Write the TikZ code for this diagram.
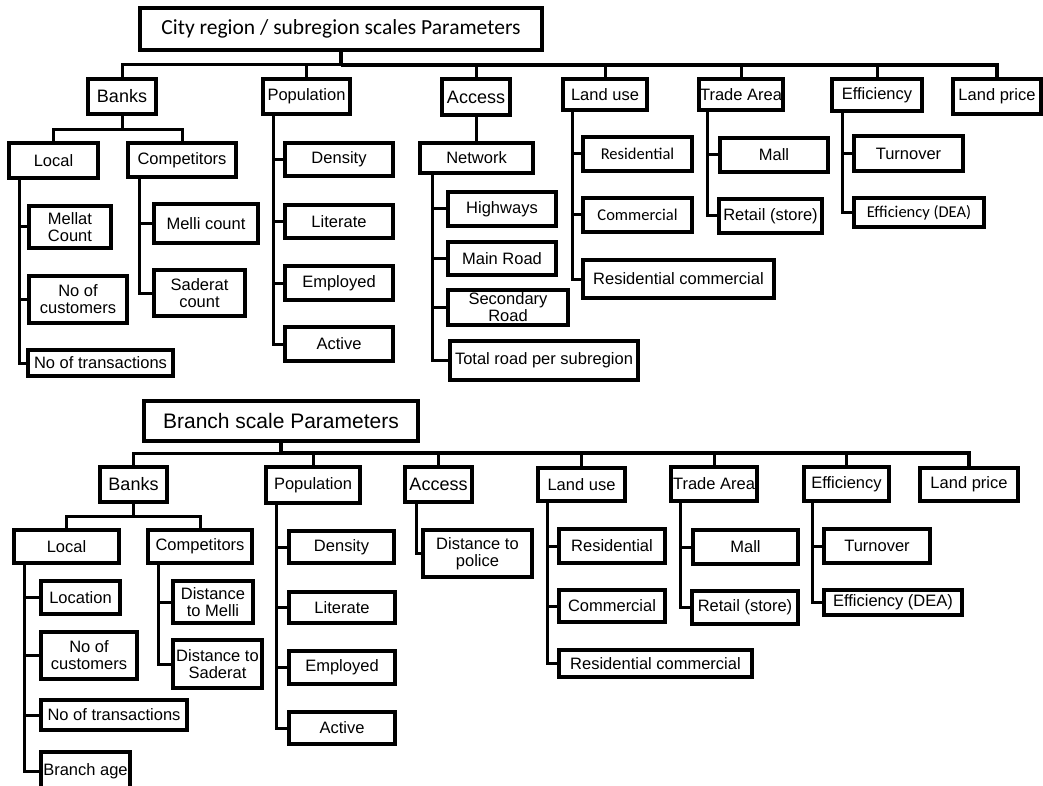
\documentclass[tikz,border=0pt]{standalone}
\usepackage{fontspec}
\setmainfont{Liberation Sans}
\newfontfamily\carl{Carlito}
\tikzset{
 box/.style={draw, line width=3.1pt, inner sep=0pt, outer sep=0pt, align=center, font=\fontsize{16.5}{17}\selectfont},
 big/.style={font=\fontsize{18}{20}\selectfont},
 ttl/.style={font=\fontsize{21}{24}\selectfont},
 ttlc/.style={font=\carl\fontsize{21.5}{24}\selectfont},
 cal/.style={font=\carl\fontsize{16.5}{18}\selectfont},
 con/.style={line width=3pt},
 bus/.style={line width=4pt},
}
\newcommand\mybox[7]{\node[box,#6,minimum width={(#4-#2)*1pt},minimum height={(#5-#3)*1pt}] (#1) at ({(#2+#4)/2},{(#3+#5)/2}) {#7};}
\begin{document}
\begin{tikzpicture}[x=1pt,y=-1pt]
\useasboundingbox (0,0) rectangle (1043,786);
% ---------------- top tree ----------------
\mybox{title1}{140}{8}{542}{50}{ttlc}{City region / subregion scales Parameters}
\mybox{banks1}{88}{79}{156}{114}{big}{Banks}
\mybox{pop1}{263}{79}{350}{114}{}{Population}
\mybox{access1}{442}{79}{510}{115}{big}{Access}
\mybox{landuse1}{563}{79}{647}{110}{}{Land use}
\mybox{trade1}{699}{79}{783}{110}{}{Trade Area}
\mybox{eff1}{832}{79}{922}{111}{}{Efficiency}
\mybox{landprice1}{953}{79}{1041}{114}{}{Land price}
\mybox{local1}{9}{143}{98}{178}{}{Local}
\mybox{comp1}{128}{143}{236}{177}{}{Competitors}
\mybox{mellat1}{29}{206}{111}{248}{}{Mellat\\Count}
\mybox{cust1}{29}{276}{127}{323}{}{No of\\customers}
\mybox{trans1}{28}{350}{173}{376}{}{No of transactions}
\mybox{melli1}{154}{204}{258}{243}{}{Melli count}
\mybox{saderat1}{154}{270}{245}{316}{}{Saderat\\count}
\mybox{density1}{285}{143}{393}{176}{}{Density}
\mybox{literate1}{285}{205}{393}{238}{}{Literate}
\mybox{employed1}{285}{266}{393}{300}{}{Employed}
\mybox{active1}{285}{327}{393}{361}{}{Active}
\mybox{network1}{420}{143}{533}{173}{}{Network}
\mybox{highways1}{448}{192}{556}{226}{}{Highways}
\mybox{mainroad1}{448}{242}{556}{275}{}{Main Road}
\mybox{secondary1}{448}{290}{568}{325}{}{Secondary\\Road}
\mybox{total1}{450}{341}{638}{380}{}{Total road per subregion}
\mybox{resid1}{583}{137}{692}{171}{cal}{Residential}
\mybox{comm1}{583}{198}{692}{232}{cal}{Commercial}
\mybox{rescomm1}{583}{260}{774}{298}{}{Residential commercial}
\mybox{mall1}{720}{138}{828}{172}{}{Mall}
\mybox{retail1}{719}{199}{822}{233}{}{Retail (store)}
\mybox{turnover1}{854}{136}{963}{171}{}{Turnover}
\mybox{effdea1}{854}{198}{984}{227}{cal}{Efficiency (DEA)}
% connectors top
\coordinate (busT) at (0,65);
\draw[bus] (title1.south) -- (title1.south |- busT);
\draw[con] (banks1.north) |- (title1.south |- busT);
\draw[bus] (title1.south |- busT) -| (landprice1.north);
\foreach \n in {pop1,access1,landuse1,trade1,eff1}{\draw[con] (\n.north) -- (\n.north |- busT);}
\coordinate (bb1) at (122,130);
\draw[con] (banks1.south) -- (banks1.south |- bb1);
\draw[con] (local1.north) |- (comp1.north |- bb1) -- (comp1.north);
\coordinate (ls1) at (19,178);
\draw[con] (ls1) |- (trans1.west);
\foreach \n in {mellat1,cust1}{\draw[con] (ls1 |- \n.west) -- (\n.west);}
\coordinate (cs1) at (139,177);
\draw[con] (cs1) |- (saderat1.west);
\draw[con] (cs1 |- melli1.west) -- (melli1.west);
\coordinate (ps1) at (273,114);
\draw[con] (ps1) |- (active1.west);
\foreach \n in {density1,literate1,employed1}{\draw[con] (ps1 |- \n.west) -- (\n.west);}
\draw[con] (access1.south) -- (access1.south |- network1.north);
\coordinate (ns1) at (432,173);
\draw[con] (ns1) |- (total1.west);
\foreach \n in {highways1,mainroad1,secondary1}{\draw[con] (ns1 |- \n.west) -- (\n.west);}
\coordinate (lu1) at (572,110);
\draw[con] (lu1) |- (rescomm1.west);
\foreach \n in {resid1,comm1}{\draw[con] (lu1 |- \n.west) -- (\n.west);}
\coordinate (ta1) at (707,110);
\draw[con] (ta1) |- (retail1.west);
\draw[con] (ta1 |- mall1.west) -- (mall1.west);
\coordinate (ef1) at (842,111);
\draw[con] (ef1) |- (effdea1.west);
\draw[con] (ef1 |- turnover1.west) -- (turnover1.west);
% ---------------- bottom tree ----------------
\mybox{title2}{144}{401}{418}{441}{ttl}{Branch scale Parameters}
\mybox{banks2}{100}{467}{167}{502}{big}{Banks}
\mybox{pop2}{266}{467}{360}{503}{}{Population}
\mybox{access2}{405}{467}{472}{502}{big}{Access}
\mybox{landuse2}{538}{468}{625}{501}{}{Land use}
\mybox{trade2}{671}{467}{757}{501}{}{Trade Area}
\mybox{eff2}{804}{467}{889}{501}{}{Efficiency}
\mybox{landprice2}{920}{468}{1018}{501}{}{Land price}
\mybox{local2}{14}{530}{119}{563}{}{Local}
\mybox{comp2}{148}{530}{252}{563}{}{Competitors}
\mybox{location2}{41}{581}{120}{614}{}{Location}
\mybox{cust2}{41}{632}{137}{679}{}{No of\\customers}
\mybox{trans2}{41}{700}{187}{730}{}{No of transactions}
\mybox{age2}{41}{752}{130}{790}{}{Branch age}
\mybox{dmelli2}{173}{581}{253}{623}{}{Distance\\to Melli}
\mybox{dsaderat2}{173}{640}{262}{688}{}{Distance to\\Saderat}
\mybox{density2}{289}{531}{394}{563}{}{Density}
\mybox{literate2}{289}{592}{395}{623}{}{Literate}
\mybox{employed2}{289}{651}{395}{684}{}{Employed}
\mybox{active2}{289}{712}{395}{744}{}{Active}
\mybox{dpolice2}{423}{530}{532}{577}{}{Distance to\\police}
\mybox{resid2}{559}{529}{665}{563}{}{Residential}
\mybox{comm2}{559}{590}{665}{622}{}{Commercial}
\mybox{rescomm2}{559}{650}{752}{677}{}{Residential commercial}
\mybox{mall2}{693}{530}{798}{564}{}{Mall}
\mybox{retail2}{692}{591}{798}{624}{}{Retail (store)}
\mybox{turnover2}{824}{529}{930}{563}{}{Turnover}
\mybox{effdea2}{824}{590}{962}{615}{}{Efficiency (DEA)}
% connectors bottom
\coordinate (busB) at (0,453);
\draw[bus] (title2.south) -- (title2.south |- busB);
\draw[con] (banks2.north) |- (title2.south |- busB);
\draw[bus] (title2.south |- busB) -| (landprice2.north);
\foreach \n in {pop2,access2,landuse2,trade2,eff2}{\draw[con] (\n.north) -- (\n.north |- busB);}
\coordinate (bb2) at (134,516);
\draw[con] (banks2.south) -- (banks2.south |- bb2);
\draw[con] (local2.north) |- (comp2.north |- bb2) -- (comp2.north);
\coordinate (ls2) at (24,563);
\draw[con] (ls2) |- (age2.west);
\foreach \n in {location2,cust2,trans2}{\draw[con] (ls2 |- \n.west) -- (\n.west);}
\coordinate (cs2) at (158,563);
\draw[con] (cs2) |- (dsaderat2.west);
\draw[con] (cs2 |- dmelli2.west) -- (dmelli2.west);
\coordinate (ps2) at (276,503);
\draw[con] (ps2) |- (active2.west);
\foreach \n in {density2,literate2,employed2}{\draw[con] (ps2 |- \n.west) -- (\n.west);}
\coordinate (as2) at (416,502);
\draw[con] (as2) |- (dpolice2.west);
\coordinate (lu2) at (547,501);
\draw[con] (lu2) |- (rescomm2.west);
\foreach \n in {resid2,comm2}{\draw[con] (lu2 |- \n.west) -- (\n.west);}
\coordinate (ta2) at (680,501);
\draw[con] (ta2) |- (retail2.west);
\draw[con] (ta2 |- mall2.west) -- (mall2.west);
\coordinate (ef2) at (812,501);
\draw[con] (ef2) |- (effdea2.west);
\draw[con] (ef2 |- turnover2.west) -- (turnover2.west);
\end{tikzpicture}
\end{document}
